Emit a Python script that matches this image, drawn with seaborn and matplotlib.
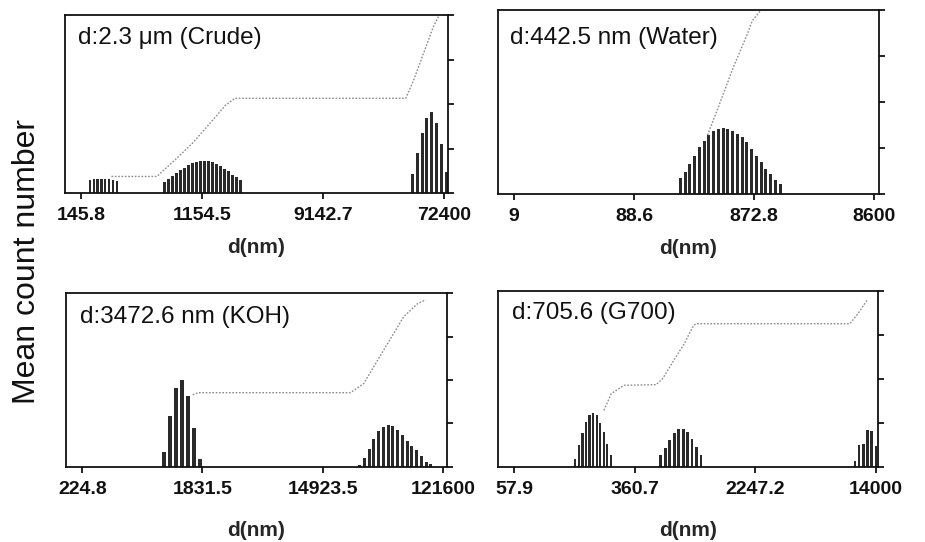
import numpy as np
import pandas as pd
import matplotlib
matplotlib.use("Agg")
import matplotlib.pyplot as plt
from matplotlib.ticker import FixedLocator, FixedFormatter, NullLocator
import seaborn as sns

sns.set_theme(style="ticks")
plt.rcParams["font.family"] = ["Liberation Sans", "DejaVu Sans"]

# ---------------- Crude ----------------
crude_title = "d:2.3 \u03bcm (Crude)"
crude_ticks = [145.8, 1154.5, 9142.7, 72400]
crude_tick_labels = ["145.8", "1154.5", "9142.7", "72400"]
crude_xlim = (110.5, 77450)
crude_bin_ranges = [(169, 268), (605, 2228), (42250, 74870)]
crude_counts = [
    [7.1, 7.9, 7.9, 8.0, 8.0, 7.9, 7.1, 6.6],
    [6.2, 7.9, 9.7, 11.2, 12.7, 14.0, 15.5, 16.9, 17.6, 18.0,
     18.2, 18.2, 17.6, 16.5, 15.0, 13.5, 12.2, 10.3, 9.0, 7.1],
    [10.8, 22.5, 33.5, 42.4, 45.3, 39.6, 27.8, 11.8],
]
crude_cum_d = [244.6, 531.4, 727.5, 977.7, 1313, 1724, 2024,
               37560, 42970, 50850, 60160, 66560]
crude_cum = [9.3, 9.3, 18.7, 28.0, 39.0, 49.4, 53.2,
             53.2, 63.4, 78.4, 93.3, 100.0]

# ---------------- Water ----------------
water_title = "d:442.5 nm (Water)"
water_ticks = [9, 88.6, 872.8, 8600]
water_tick_labels = ["9", "88.6", "872.8", "8600"]
water_xlim = (6.64, 9467)
water_bin_ranges = [(215, 1439)]
water_counts = [
    [8.7, 12.0, 16.3, 20.5, 25.4, 28.6, 31.9, 34.4, 35.5, 35.9, 35.5,
     34.4, 32.6, 30.8, 28.3, 24.6, 20.5, 17.4, 13.8, 10.9, 7.8, 5.4],
]
water_cum_d = [360, 445, 590, 771, 843, 998]
water_cum = [32.0, 47.6, 69.0, 87.0, 94.0, 100.0]

# ---------------- KOH ----------------
koh_title = "d:3472.6 nm (KOH)"
koh_ticks = [224.8, 1831.5, 14923.5, 121600]
koh_tick_labels = ["224.8", "1831.5", "14923.5", "121600"]
koh_xlim = (169.3, 130800)
koh_bin_ranges = [(940, 1764), (28500, 98580)]
koh_counts = [
    [8.6, 29.1, 45.6, 50.2, 40.6, 22.6, 4.8],
    [1.0, 5.2, 10.5, 16.3, 20.7, 23.0, 24.3, 23.6,
     21.1, 18.6, 14.8, 11.9, 9.6, 6.1, 2.9, 1.9],
]
koh_cum_d = [1545, 1700, 24300, 30550, 39030, 48990, 61490, 78540, 90360]
koh_cum = [41.5, 42.7, 42.7, 48.0, 61.5, 74.0, 86.5, 94.0, 96.0]

# ---------------- G700 ----------------
g700_title = "d:705.6 (G700)"
g700_ticks = [57.9, 360.7, 2247.2, 14000]
g700_tick_labels = ["57.9", "360.7", "2247.2", "14000"]
g700_xlim = (45.5, 14430)
g700_bin_ranges = [(146.9, 252), (536.6, 987.2), (10165, 14000)]
g700_counts = [
    [4.7, 12.3, 19.5, 25.6, 29.4, 30.7, 29.4, 25.0, 19.9, 13.3, 7.0],
    [6.6, 11.0, 15.5, 19.5, 21.8, 21.8, 19.9, 16.1, 11.4, 6.6],
    [3.2, 12.7, 13.0, 21.2, 20.6, 11.7],
]
g700_cum_d = [226.5, 253.5, 307.3, 499.7, 552, 663.7, 764.6, 881.4,
              919.7, 9419, 10640, 12210]
g700_cum = [32.2, 41.7, 46.4, 46.8, 50.2, 61.6, 70.0, 80.5,
            81.4, 81.4, 87.1, 94.7]

panels = [
    dict(title=crude_title, ticks=crude_ticks, labels=crude_tick_labels,
         xlim=crude_xlim, ranges=crude_bin_ranges, counts=crude_counts,
         cum_d=crude_cum_d, cum=crude_cum,
         rect=[0.0703, 0.6439, 0.4141, 0.3284], tpos=(0.034, 0.87), pad=10),
    dict(title=water_title, ticks=water_ticks, labels=water_tick_labels,
         xlim=water_xlim, ranges=water_bin_ranges, counts=water_counts,
         cum_d=water_cum_d, cum=water_cum,
         rect=[0.5384, 0.6421, 0.4119, 0.3395], tpos=(0.032, 0.85), pad=10),
    dict(title=koh_title, ticks=koh_ticks, labels=koh_tick_labels,
         xlim=koh_xlim, ranges=koh_bin_ranges, counts=koh_counts,
         cum_d=koh_cum_d, cum=koh_cum,
         rect=[0.0714, 0.1384, 0.4119, 0.3210], tpos=(0.037, 0.862), pad=17),
    dict(title=g700_title, ticks=g700_ticks, labels=g700_tick_labels,
         xlim=g700_xlim, ranges=g700_bin_ranges, counts=g700_counts,
         cum_d=g700_cum_d, cum=g700_cum,
         rect=[0.5384, 0.1384, 0.4108, 0.3247], tpos=(0.037, 0.875), pad=17),
]

fig = plt.figure(figsize=(9.25, 5.42), dpi=100)
fig.patch.set_facecolor("white")

for p in panels:
    ax = fig.add_axes(p["rect"])
    ax.set_xscale("log")

    # each populated band is drawn on its own log-spaced size bins
    for (lo, hi), cnt in zip(p["ranges"], p["counts"]):
        band = pd.DataFrame({"d": np.geomspace(lo, hi, len(cnt)),
                             "count": cnt})
        sns.barplot(data=band, x="d", y="count", native_scale=True,
                    width=0.62, color="#2a2a2a", saturation=1,
                    errorbar=None, linewidth=0, ax=ax)
    sns.lineplot(x=p["cum_d"], y=p["cum"], ax=ax, color="#8c8c8c",
                 linewidth=1.0, linestyle=(0, (1.2, 1.2)))

    ax.set_xlim(*p["xlim"])
    ax.set_ylim(0, 100)
    ax.xaxis.set_major_locator(FixedLocator(p["ticks"]))
    ax.xaxis.set_major_formatter(FixedFormatter(p["labels"]))
    ax.xaxis.set_minor_locator(NullLocator())
    ax.yaxis.set_minor_locator(NullLocator())
    ax.yaxis.set_major_locator(FixedLocator([0, 25, 50, 75, 100]))
    ax.tick_params(axis="x", direction="out", length=4, width=1.3,
                   labelsize=14, pad=6, colors="#111111")
    for lab in ax.get_xticklabels():
        lab.set_fontweight("bold")
    ax.tick_params(axis="y", left=False, labelleft=False, right=True,
                   labelright=False, direction="out", length=4, width=1.3,
                   colors="#111111")
    for s in ax.spines.values():
        s.set_visible(True)
        s.set_color("#111111")
        s.set_linewidth(1.3)

    ax.set_xlabel("d(nm)", fontsize=15, fontweight="bold", labelpad=p["pad"])
    ax.set_ylabel("")
    ax.text(p["tpos"][0], p["tpos"][1], p["title"], transform=ax.transAxes,
            fontsize=17.5, ha="left", va="center", color="#111111")

fig.text(0.029, 0.517, "Mean count number", rotation=90, fontsize=23,
         ha="center", va="center", color="#111111")

fig.savefig("out.png", dpi=100, facecolor="white")
